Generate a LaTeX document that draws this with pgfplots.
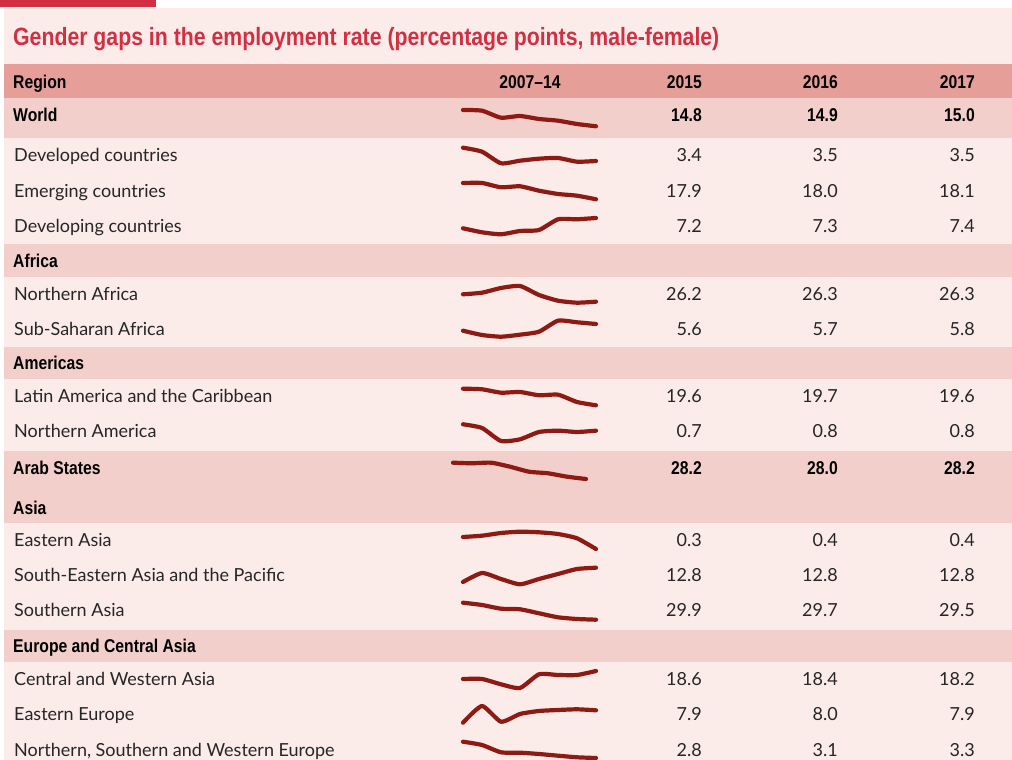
\documentclass[border=0pt]{standalone}
\usepackage{fontspec}
\setmainfont{Lato}
\newfontfamily\condb{Liberation Sans Bold}[FakeStretch=0.85]
\usepackage{pgfplots}
\pgfplotsset{compat=1.18}

\definecolor{bgpink}{HTML}{FBEBE9}
\definecolor{bandpink}{HTML}{F2CFCB}
\definecolor{headpink}{HTML}{E69E99}
\definecolor{ilored}{HTML}{D23042}
\definecolor{sparkred}{HTML}{8E1B13}
\definecolor{ink}{HTML}{262626}

\pgfplotsset{
  spark/.style={scale only axis, width=133pt, height=30pt,
    xmin=2007, xmax=2014, ymin=0, ymax=30, hide axis, clip=false,
    anchor=south west},
  sparkline/.style={sparkred, line width=4.2pt, line cap=round,
    line join=round, smooth, tension=0.35, no marks},
}
\newcommand{\bodyfont}{\fontsize{18}{20}\selectfont}
\newcommand{\boldfont}{\condb\fontsize{18.5}{20}\selectfont}
% left label, bold row label, values
\newcommand{\lab}[2]{\node[anchor=base west, inner sep=0, font=\bodyfont, text=ink] at (axis cs:14,#1) {#2};}
\newcommand{\blab}[2]{\node[anchor=base west, inner sep=0, font=\boldfont, text=black] at (axis cs:13,#1) {#2};}
\newcommand{\vals}[4]{%
  \node[anchor=base east, inner sep=0, font=\bodyfont, text=ink] at (axis cs:702,#1) {#2};
  \node[anchor=base east, inner sep=0, font=\bodyfont, text=ink] at (axis cs:838,#1) {#3};
  \node[anchor=base east, inner sep=0, font=\bodyfont, text=ink] at (axis cs:975,#1) {#4};}
\newcommand{\bvals}[4]{%
  \node[anchor=base east, inner sep=0, font=\boldfont] at (axis cs:702,#1) {#2};
  \node[anchor=base east, inner sep=0, font=\boldfont] at (axis cs:838,#1) {#3};
  \node[anchor=base east, inner sep=0, font=\boldfont] at (axis cs:975,#1) {#4};}

\begin{document}
\begin{tikzpicture}
\begin{axis}[at={(0,0)}, anchor=south west, scale only axis,
  width=1012pt, height=760pt, xmin=0, xmax=1012, ymin=0, ymax=760,
  y dir=reverse, hide axis, clip=false]
  \fill[white] (axis cs:0,0) rectangle (axis cs:1012,760);
  \fill[bgpink] (axis cs:4,8) rectangle (axis cs:1012,760);
  \fill[ilored] (axis cs:0,0) rectangle (axis cs:156,7.5);
  \fill[headpink] (axis cs:4,64.3) rectangle (axis cs:1012,97.7);
  \fill[bandpink] (axis cs:4,97.7) rectangle (axis cs:1012,137.5);
  \fill[bandpink] (axis cs:4,244.3) rectangle (axis cs:1012,277.3);
  \fill[bandpink] (axis cs:4,347) rectangle (axis cs:1012,379);
  \fill[bandpink] (axis cs:4,451) rectangle (axis cs:1012,522.7);
  \fill[bandpink] (axis cs:4,630) rectangle (axis cs:1012,661.7);

  \node[anchor=base west, inner sep=0, font=\condb\fontsize{25}{28}\selectfont, text=ilored]
    at (axis cs:13,45.5) {Gender gaps in the employment rate (percentage points, male-female)};

  \blab{88.3}{Region}
  \node[anchor=base, inner sep=0, font=\boldfont] at (axis cs:530,88.3) {2007–14};
  \bvals{88.3}{2015}{2016}{2017}

  \blab{121.7}{World}              \bvals{121.7}{14.8}{14.9}{15.0}
  \lab{161.5}{Developed countries} \vals{161.5}{3.4}{3.5}{3.5}
  \lab{197}{Emerging countries}    \vals{197}{17.9}{18.0}{18.1}
  \lab{232}{Developing countries}  \vals{232}{7.2}{7.3}{7.4}
  \blab{267}{Africa}
  \lab{300.5}{Northern Africa}     \vals{300.5}{26.2}{26.3}{26.3}
  \lab{335.5}{Sub-Saharan Africa}  \vals{335.5}{5.6}{5.7}{5.8}
  \blab{369}{Americas}
  \lab{402.5}{Latin America and the Caribbean} \vals{402.5}{19.6}{19.7}{19.6}
  \lab{437.5}{Northern America}    \vals{437.5}{0.7}{0.8}{0.8}
  \blab{474}{Arab States}          \bvals{474}{28.2}{28.0}{28.2}
  \blab{514}{Asia}
  \lab{546.5}{Eastern Asia}        \vals{546.5}{0.3}{0.4}{0.4}
  \lab{581.5}{South-Eastern Asia and the Pacific} \vals{581.5}{12.8}{12.8}{12.8}
  \lab{616.5}{Southern Asia}       \vals{616.5}{29.9}{29.7}{29.5}
  \blab{652}{Europe and Central Asia}
  \lab{685.5}{Central and Western Asia} \vals{685.5}{18.6}{18.4}{18.2}
  \lab{720.5}{Eastern Europe}      \vals{720.5}{7.9}{8.0}{7.9}
  \lab{756}{Northern, Southern and Western Europe} \vals{756}{2.8}{3.1}{3.3}
\end{axis}

% sparklines 2007-14: heights (px above each box's base)
\begin{axis}[spark, at={(463pt,629pt)}]
  \addplot[sparkline] coordinates {(2007,21) (2008,20.3) (2009,13.3) (2010,15) (2011,12) (2012,10.3) (2013,7) (2014,4.7)};
\end{axis}
\begin{axis}[spark, at={(463pt,590pt)}]
  \addplot[sparkline] coordinates {(2007,22.3) (2008,18.3) (2009,6.7) (2010,9.3) (2011,11.3) (2012,12) (2013,8.3) (2014,9)};
\end{axis}
\begin{axis}[spark, at={(463pt,555pt)}]
  \addplot[sparkline] coordinates {(2007,22) (2008,22) (2009,17.7) (2010,18.7) (2011,14.3) (2012,11) (2013,9.3) (2014,5.7)};
\end{axis}
\begin{axis}[spark, at={(463pt,520pt)}]
  \addplot[sparkline] coordinates {(2007,11.7) (2008,7.7) (2009,5.7) (2010,9) (2011,10) (2012,20.7) (2013,20.7) (2014,22)};
\end{axis}
\begin{axis}[spark, at={(463pt,451pt)}]
  \addplot[sparkline] coordinates {(2007,14.7) (2008,16.3) (2009,21) (2010,23) (2011,14) (2012,8.3) (2013,6.3) (2014,7.3)};
\end{axis}
\begin{axis}[spark, at={(463pt,416pt)}]
  \addplot[sparkline] coordinates {(2007,13.3) (2008,9) (2009,7.3) (2010,9.3) (2011,12.3) (2012,23.3) (2013,21.7) (2014,20)};
\end{axis}
\begin{axis}[spark, at={(463pt,349pt)}]
  \addplot[sparkline] coordinates {(2007,22.3) (2008,21.7) (2009,18.3) (2010,19) (2011,15.7) (2012,16.3) (2013,9) (2014,5.7)};
\end{axis}
\begin{axis}[spark, at={(463pt,314pt)}]
  \addplot[sparkline] coordinates {(2007,21.7) (2008,18) (2009,5) (2010,6.7) (2011,14) (2012,15.3) (2013,14) (2014,15.3)};
\end{axis}
\begin{axis}[spark, at={(453pt,277pt)}]
  \addplot[sparkline] coordinates {(2007,20.3) (2008,19.7) (2009,20.3) (2010,16.3) (2011,11.3) (2012,9.7) (2013,6.3) (2014,4)};
\end{axis}
\begin{axis}[spark, at={(463pt,205pt)}]
  \addplot[sparkline] coordinates {(2007,18) (2008,19.3) (2009,22) (2010,23.3) (2011,22.7) (2012,21) (2013,16.7) (2014,6)};
\end{axis}
\begin{axis}[spark, at={(463pt,170pt)}]
  \addplot[sparkline] coordinates {(2007,8) (2008,17) (2009,11) (2010,5.7) (2011,11) (2012,16) (2013,21) (2014,22.3)};
\end{axis}
\begin{axis}[spark, at={(463pt,135pt)}]
  \addplot[sparkline] coordinates {(2007,22.3) (2008,20) (2009,16.3) (2010,15.7) (2011,11.7) (2012,7.7) (2013,6) (2014,5.3)};
\end{axis}
\begin{axis}[spark, at={(463pt,66pt)}]
  \addplot[sparkline] coordinates {(2007,15) (2008,15) (2009,9.7) (2010,6) (2011,19.7) (2012,19) (2013,19) (2014,23)};
\end{axis}
\begin{axis}[spark, at={(463pt,31pt)}]
  \addplot[sparkline] coordinates {(2007,6.3) (2008,23) (2009,7.3) (2010,15) (2011,18) (2012,19) (2013,19.7) (2014,18.7)};
\end{axis}
\begin{axis}[spark, at={(463pt,-5pt)}]
  \addplot[sparkline] coordinates {(2007,23.3) (2008,20) (2009,12.7) (2010,12.3) (2011,11) (2012,9.3) (2013,7.7) (2014,7)};
\end{axis}
\pgfresetboundingbox
\path (0,0) rectangle (1012pt,760pt);
\end{tikzpicture}
\end{document}
